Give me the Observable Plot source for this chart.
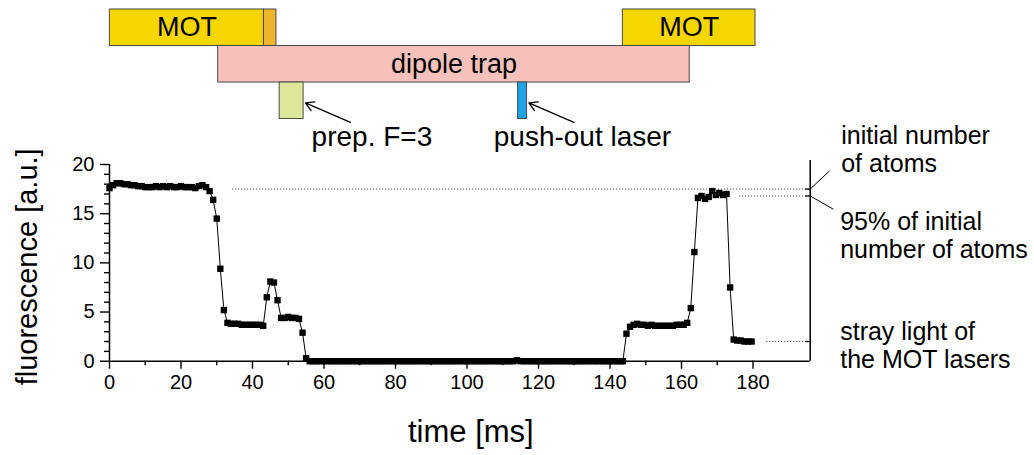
<!DOCTYPE html>
<html><head><meta charset="utf-8">
<script src="https://cdn.jsdelivr.net/npm/d3@7"></script>
<script src="https://cdn.jsdelivr.net/npm/@observablehq/plot@0.6"></script>
<style>
body{margin:0;background:#fff;}
#wrap{position:relative;width:1034px;height:455px;}
#wrap svg{position:absolute;left:0;top:0;}
</style></head><body><div id="wrap"></div>
<script>
// ---------- data ----------
// segment A: sampled every 1 ms from t = 0 ms
const segAStart = 0;
const segAValues = [17.6,17.9,18.1,18.1,18.0,18.0,17.9,17.9,17.8,17.8,
  17.7,17.7,17.7,17.8,17.7,17.8,17.7,17.8,17.7,17.7,
  17.8,17.7,17.7,17.7,17.6,17.8,17.9,17.7,17.3,16.4,
  14.5,9.4,5.2,3.9,3.8,3.8,3.8,3.7,3.7,3.7,
  3.7,3.7,3.7,3.6,6.5,8.1,8.0,6.2,4.4,4.4,
  4.5,4.4,4.4,4.3,2.9,0.3];
// segment B: empty trap, every 1 ms from t = 56 ms
const segBStart = 56;
const segBValues = [0,0,0,0,0,0,0,0,0,0, 0,0,0,0,0,0,0,0,0,0,
  0,0,0,0,0,0,0,0,0,0, 0,0,0,0,0,0,0,0,0,0,
  0,0,0,0,0,0,0,0,0,0, 0,0,0,0,0,0,0,0,0.1,0,
  0,0,0,0,0,0,0,0,0,0, 0,0,0,0,0,0,0,0,0,0,
  0,0,0,0,0,0,0,0];
// segment C: recapture, every 1 ms from t = 143.6 ms
const segCStart = 143.6;
const segCValues = [0.0,2.8,3.5,3.7,3.8,3.7,3.7,3.6,3.7,3.6,
  3.6,3.6,3.6,3.6,3.6,3.7,3.7,3.7,3.9,5.4,
  11.1,16.6,16.8,16.5,16.7,17.3,16.9,17.1,16.9,17.0,
  7.5,2.2,2.1,2.1,2.0,2.0,2.0];
const sampleStep = 1;

const xTicks = [0,20,40,60,80,100,120,140,160,180];
const xMinorTicks = [10,30,50,70,90,110,130,150,170];
const yTicks = [0,5,10,15,20];
const yMinorTicks = [1,2,3,4,6,7,8,9,11,12,13,14,16,17,18,19];
const xMax = 196;

// reference levels at the right
const levelIds = ["initial","ninetyfive","stray"];
const levelValues = [17.5, 16.8, 2.0];
const levelFrom = [34.4, 176.2, 183.8];
const levelTexts = ["initial number\nof atoms", "95% of initial\nnumber of atoms", "stray light of\nthe MOT lasers"];

// timing diagram
const rows = ["MOT","dipole","pulse","label"];
const barIds = ["mot1","mot1end","dipole","prep","push","mot2"];
const barRows = ["MOT","MOT","dipole","pulse","pulse","MOT"];
const barStart = [0.1, 43.2, 30.4, 47.6, 114.3, 143.6];
const barEnd = [43.2, 46.7, 162.3, 54.3, 116.8, 180.7];
const barNames = ["MOT","","dipole trap","","","MOT"];
const calloutBars = ["prep","push"];
const calloutTexts = ["prep. F=3","push-out laser"];
const calloutTextX = [73.4, 132.3];
const calloutTailX = [67.4, 129.9];

// ---------- build ----------
const data = [];
segAValues.forEach((v,i)=>data.push({t:segAStart+i*sampleStep, v}));
segBValues.forEach((v,i)=>data.push({t:segBStart+i*sampleStep, v}));
segCValues.forEach((v,i)=>data.push({t:segCStart+i*sampleStep, v}));

const levels = levelIds.map((id,i)=>({id, value:levelValues[i], from:levelFrom[i], text:levelTexts[i]}));
const bars = barIds.map((id,i)=>({id, row:barRows[i], start:barStart[i], end:barEnd[i], name:barNames[i]}));
const callouts = calloutBars.map((b,i)=>{
  const bar = bars.find(d=>d.id===b);
  return {bar, text:calloutTexts[i], textX:calloutTextX[i], tailX:calloutTailX[i]};
});

const barColors = {mot1:"#f5d600", mot1end:"#efb52a", dipole:"#f7c1bb", prep:"#dde699", push:"#1ea4e6", mot2:"#f5d600"};
const font = "'Liberation Sans', Arial, Helvetica, sans-serif";
const W = 1034, H = 455, ML = 109, MR = 224.3;

const byId = id => levels.find(d=>d.id===id);

const mainChart = Plot.plot({
  width:W, height:H, marginLeft:ML, marginRight:MR, marginTop:164, marginBottom:94.3,
  x:{domain:[0,xMax]}, y:{domain:[0,20]},
  style:{fontFamily:font, fontSize:"20px", color:"#000", background:"transparent", overflow:"visible"},
  marks:[
    Plot.axisX({ticks:xTicks, tickSize:8, tickPadding:6, label:null, fontSize:20, strokeWidth:1.4}),
    Plot.axisX({ticks:xMinorTicks, tickSize:4.5, tickFormat:()=>"", label:null, strokeWidth:1.4}),
    Plot.axisY({ticks:yTicks, tickSize:9, tickPadding:6, label:null, fontSize:20, strokeWidth:1.4}),
    Plot.axisY({ticks:yMinorTicks, tickSize:5, tickFormat:()=>"", label:null, strokeWidth:1.4}),
    Plot.ruleY([0], {x1:0, x2:xMax, stroke:"#000", strokeWidth:1.5}),
    Plot.ruleX([0], {y1:0, y2:20, stroke:"#000", strokeWidth:1.5}),
    Plot.ruleX([xMax], {y1:0, y2:20.4, stroke:"#000", strokeWidth:1.5}),
    Plot.ruleY(levels, {y:"value", x1:"from", x2:xMax, stroke:"#555", strokeWidth:1, strokeDasharray:"1.2,1.8"}),
    Plot.ruleY(levels, {y:"value", x1:xMax-1.3, x2:xMax, stroke:"#000", strokeWidth:1.3}),
    Plot.link([byId("initial")], {x1:xMax, y1:"value", x2:()=>xMax+5.4, y2:d=>d.value+1.85, stroke:"#000", strokeWidth:1}),
    Plot.link([byId("ninetyfive")], {x1:xMax, y1:"value", x2:()=>xMax+6.5, y2:d=>d.value-1.35, stroke:"#000", strokeWidth:1}),
    Plot.text([byId("initial")], {x:()=>xMax, y:"value", text:"text", textAnchor:"start", lineAnchor:"middle", dx:31, dy:-40, fontSize:25, lineHeight:1.12}),
    Plot.text([byId("ninetyfive")], {x:()=>xMax, y:"value", text:"text", textAnchor:"start", lineAnchor:"middle", dx:30, dy:39, fontSize:25, lineHeight:1.12}),
    Plot.text([byId("stray")], {x:()=>xMax, y:"value", text:"text", textAnchor:"start", lineAnchor:"middle", dx:30, dy:4, fontSize:25, lineHeight:1.12}),
    Plot.line(data, {x:"t", y:"v", stroke:"#000", strokeWidth:1}),
    Plot.dot(data, {x:"t", y:"v", symbol:"square", r:3.6, fill:"#000", stroke:"none"}),
    Plot.text(["time [ms]"], {frameAnchor:"bottom", textAnchor:"middle", dx:11, dy:81, fontSize:31}),
    Plot.text(["fluorescence [a.u.]"], {frameAnchor:"left", textAnchor:"middle", rotate:-90, dx:-82, dy:4, fontSize:29})
  ]
});

const timingChart = Plot.plot({
  width:W, height:160, marginLeft:ML, marginRight:MR, marginTop:9, marginBottom:5,
  x:{domain:[0,xMax], axis:null}, y:{domain:[0,rows.length], range:[9,155], axis:null},
  style:{fontFamily:font, fontSize:"27px", color:"#000", background:"transparent", overflow:"visible"},
  marks:[
    Plot.rect(bars, {x1:"start", x2:"end", y1:d=>rows.indexOf(d.row), y2:d=>rows.indexOf(d.row)+1,
      fill:d=>barColors[d.id], stroke:"#4a4a4a", strokeWidth:1}),
    Plot.text(bars.filter(d=>d.name), {x:d=>(d.start+d.end)/2, y:d=>rows.indexOf(d.row)+0.5, text:"name", fontSize:27}),
    Plot.arrow(callouts, {x1:"tailX", y1:d=>rows.indexOf(d.bar.row)+1.09, x2:d=>d.bar.end+0.5, y2:d=>rows.indexOf(d.bar.row)+0.56,
      stroke:"#000", strokeWidth:1.3, headLength:11, bend:0}),
    Plot.text(callouts, {x:"textX", y:()=>rows.indexOf("label")+0.5, text:"text", fontSize:28})
  ]
});

const wrap = document.getElementById("wrap");
wrap.appendChild(mainChart);
wrap.appendChild(timingChart);
</script></body></html>
